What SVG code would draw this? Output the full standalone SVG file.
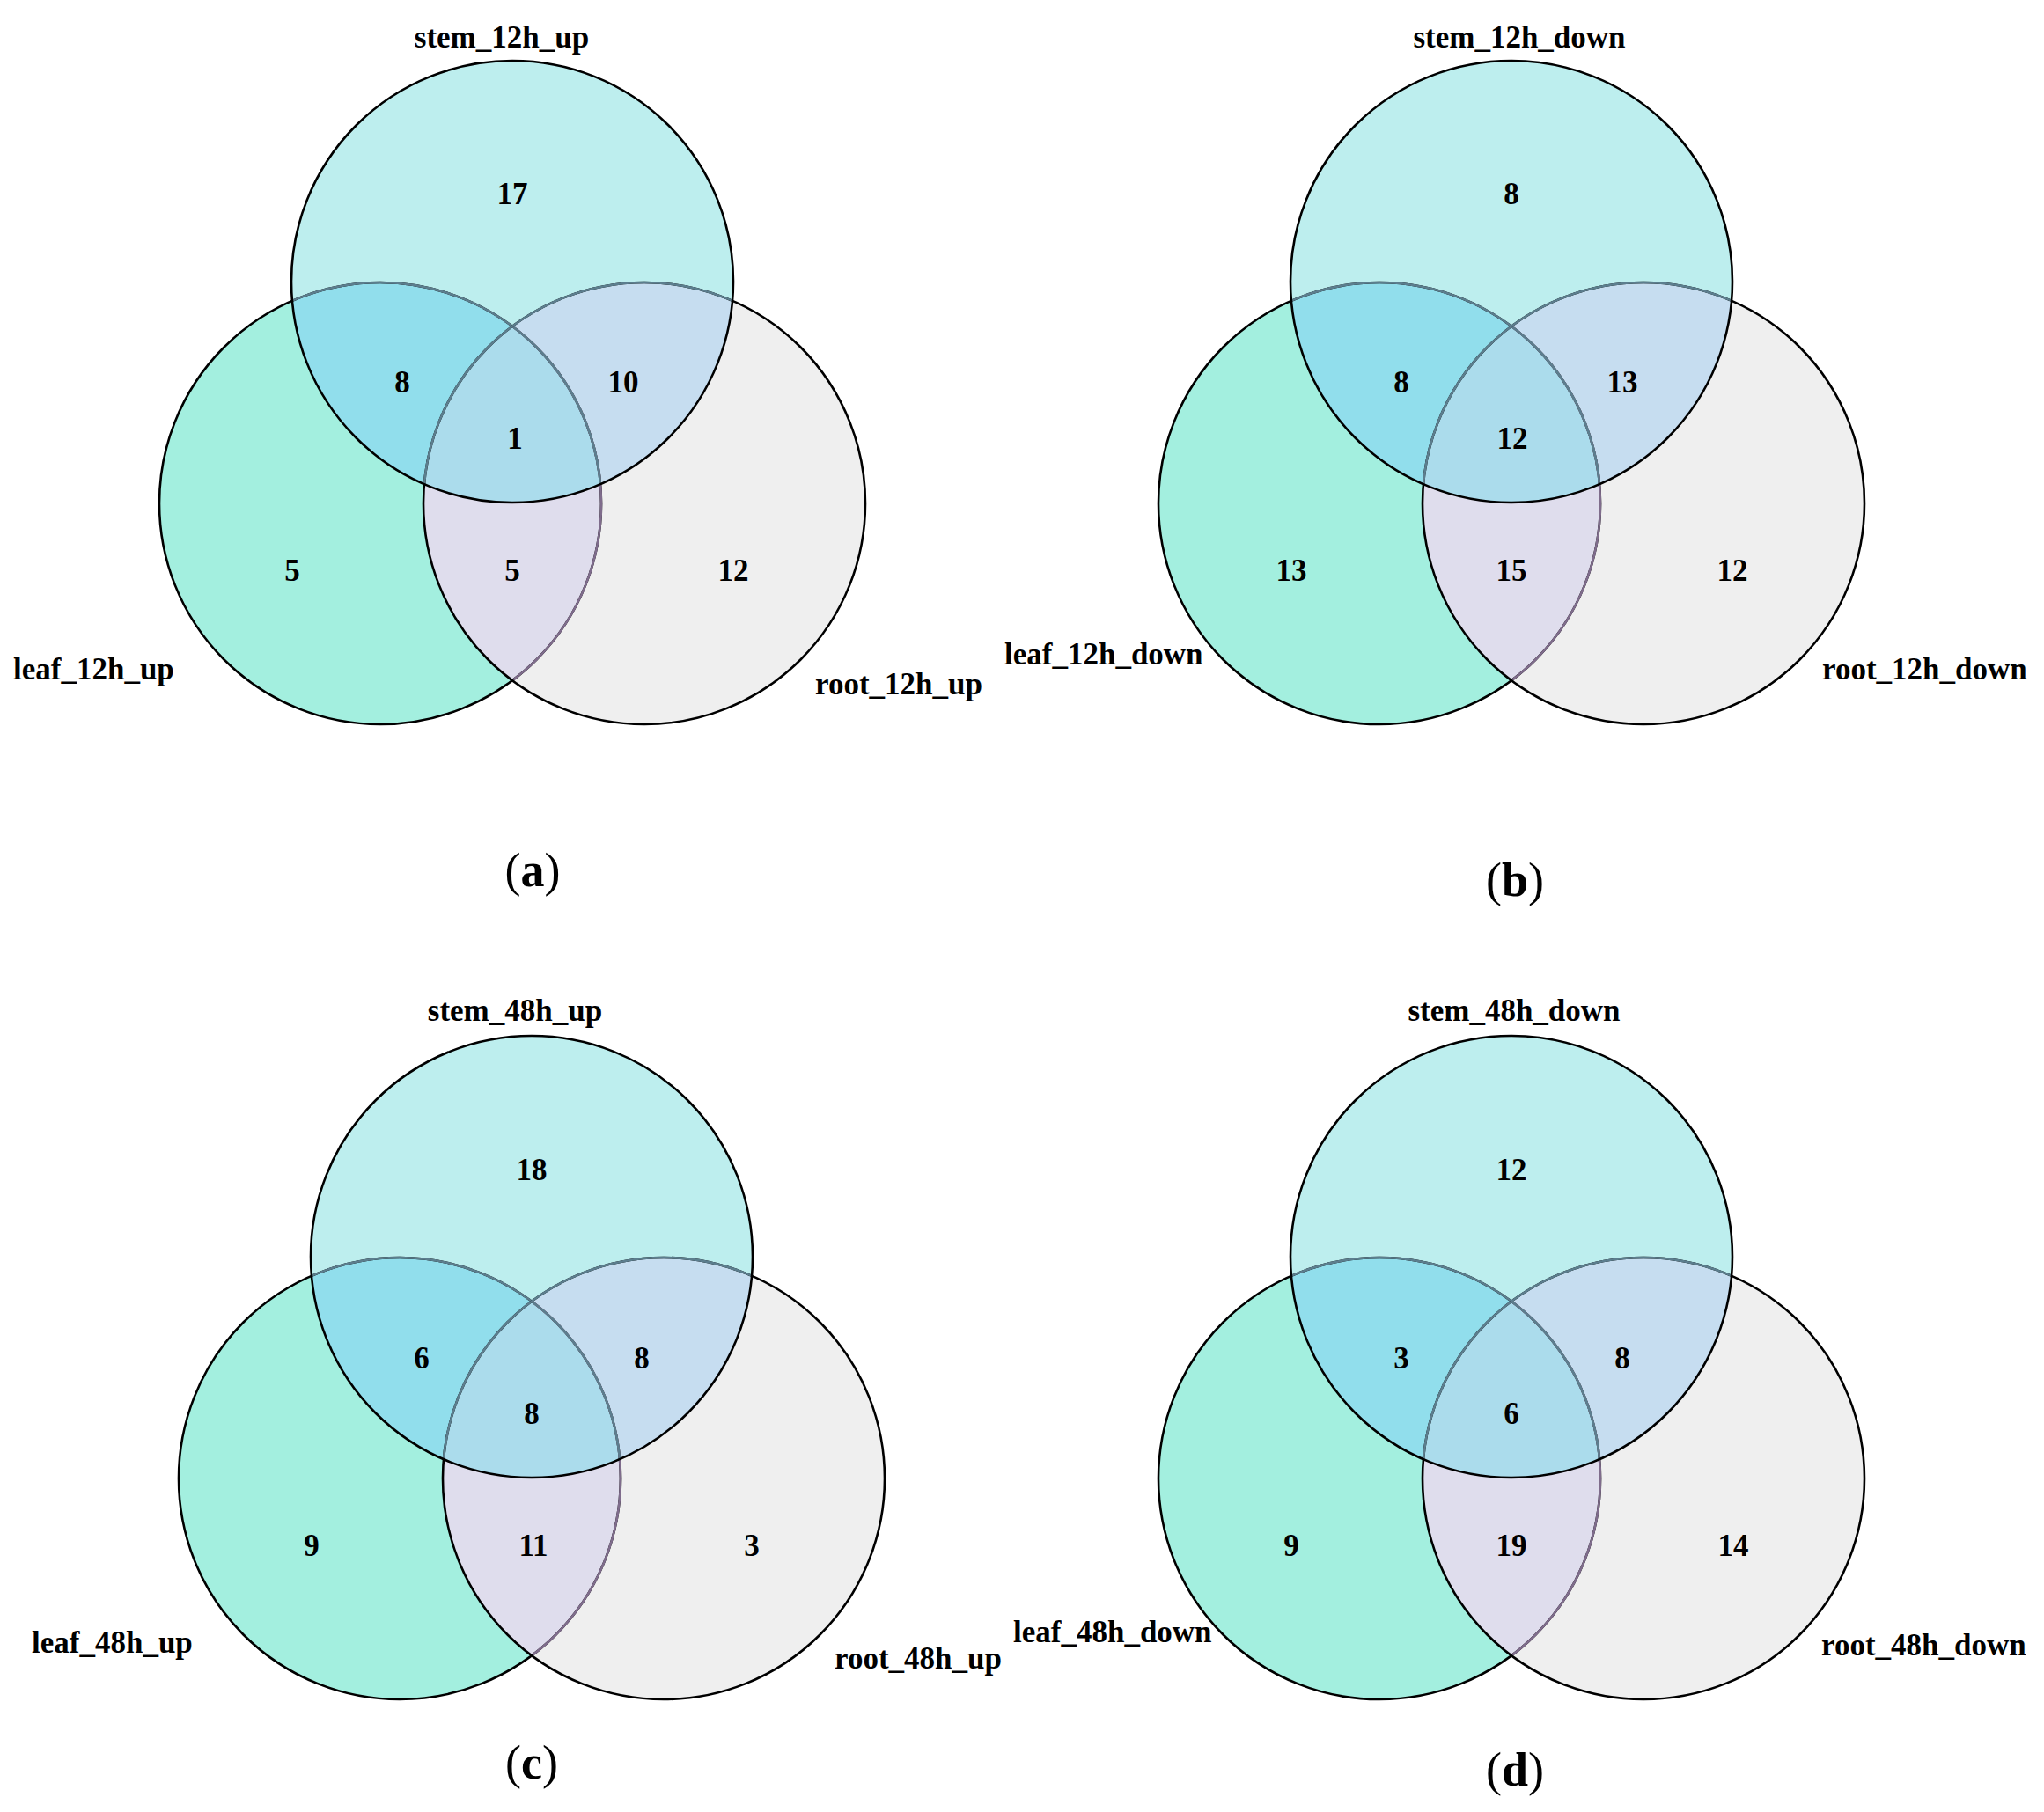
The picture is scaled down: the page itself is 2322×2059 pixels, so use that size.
<svg xmlns="http://www.w3.org/2000/svg" xmlns:xlink="http://www.w3.org/1999/xlink" width="2322" height="2059" viewBox="0 0 2322 2059">
<style>
  .t { font-family: "Liberation Serif", "Times New Roman", serif; font-weight: bold; fill: #000; }
  .lab { font-size: 35px; }
  .num { font-size: 35px; text-anchor: middle; }
  .mid { text-anchor: middle; }
  .cap { font-size: 54px; text-anchor: middle; }
  .paren { font-weight: normal; }
  .f-leaf { fill: #A3EFDF; }
  .f-root { fill: #EFEFEF; }
  .f-stem { fill: #BDEEEE; }
  .f-lr { fill: #DFDDED; }
  .f-ls { fill: #91DEEC; }
  .f-sr { fill: #C6DDF0; }
  .f-all { fill: #ABDCEC; }
  .s { fill: none; stroke: #000; stroke-width: 2.6; }
  .s-rf { stroke: #7F6C8C; }
  .s-sf { stroke: #5C7E8E; }
</style>
<defs>
  <clipPath id="c-leaf" clipPathUnits="userSpaceOnUse"><circle cx="-150" cy="252" r="251"/></clipPath>
  <clipPath id="c-root" clipPathUnits="userSpaceOnUse"><circle cx="150" cy="252" r="251"/></clipPath>
  <clipPath id="c-stem" clipPathUnits="userSpaceOnUse"><circle cx="0" cy="0" r="251"/></clipPath>
  <g id="venn">
    <circle class="f-leaf" cx="-150" cy="252" r="251"/>
    <circle class="f-root" cx="150" cy="252" r="251"/>
    <circle class="f-stem" cx="0" cy="0" r="251"/>
    <circle class="f-lr" cx="150" cy="252" r="251" clip-path="url(#c-leaf)"/>
    <circle class="f-ls" cx="0" cy="0" r="251" clip-path="url(#c-leaf)"/>
    <circle class="f-sr" cx="0" cy="0" r="251" clip-path="url(#c-root)"/>
    <g clip-path="url(#c-root)"><circle class="f-all" cx="0" cy="0" r="251" clip-path="url(#c-leaf)"/></g>
    <circle class="s" cx="-150" cy="252" r="251"/>
    <circle class="s s-rf" cx="-150" cy="252" r="251" clip-path="url(#c-root)"/>
    <circle class="s s-sf" cx="-150" cy="252" r="251" clip-path="url(#c-stem)"/>
    <circle class="s" cx="150" cy="252" r="251"/>
    <circle class="s s-sf" cx="150" cy="252" r="251" clip-path="url(#c-stem)"/>
    <circle class="s" cx="0" cy="0" r="251"/>
  </g>
</defs>
<rect x="0" y="0" width="2322" height="2059" fill="#FFFFFF"/>

<g id="panel-a">
  <g id="a-sets" transform="translate(582,320)">
    <use xlink:href="#venn" href="#venn"/>
    <g class="t num">
      <text x="0" y="-88">17</text>
      <text x="-125" y="126">8</text>
      <text x="126" y="126">10</text>
      <text x="3" y="190">1</text>
      <text x="-250" y="340">5</text>
      <text x="0" y="340">5</text>
      <text x="251" y="340">12</text>
    </g>
  </g>
  <text id="a-stem" class="t lab mid" x="570" y="54">stem_12h_up</text>
  <text id="a-leaf" class="t lab" x="15" y="772">leaf_12h_up</text>
  <text id="a-root" class="t lab" x="926" y="789">root_12h_up</text>
  <text class="t cap" x="605" y="1007"><tspan class="paren">(</tspan>a<tspan class="paren">)</tspan></text>
</g>

<g id="panel-b">
  <g id="b-sets" transform="translate(1717,320)">
    <use xlink:href="#venn" href="#venn"/>
    <g class="t num">
      <text x="0" y="-88">8</text>
      <text x="-125" y="126">8</text>
      <text x="126" y="126">13</text>
      <text x="1" y="190">12</text>
      <text x="-250" y="340">13</text>
      <text x="0" y="340">15</text>
      <text x="251" y="340">12</text>
    </g>
  </g>
  <text id="b-stem" class="t lab mid" x="1726" y="54">stem_12h_down</text>
  <text id="b-leaf" class="t lab" x="1141" y="755">leaf_12h_down</text>
  <text id="b-root" class="t lab" x="2070" y="772">root_12h_down</text>
  <text class="t cap" x="1721" y="1018"><tspan class="paren">(</tspan>b<tspan class="paren">)</tspan></text>
</g>

<g id="panel-c">
  <g id="c-sets" transform="translate(604,1428)">
    <use xlink:href="#venn" href="#venn"/>
    <g class="t num">
      <text x="0" y="-87">18</text>
      <text x="-125" y="127">6</text>
      <text x="125" y="127">8</text>
      <text x="0" y="190">8</text>
      <text x="-250" y="340">9</text>
      <text x="2" y="340">11</text>
      <text x="250" y="340">3</text>
    </g>
  </g>
  <text id="c-stem" class="t lab mid" x="585" y="1160">stem_48h_up</text>
  <text id="c-leaf" class="t lab" x="36" y="1878">leaf_48h_up</text>
  <text id="c-root" class="t lab" x="948" y="1896">root_48h_up</text>
  <text class="t cap" x="604" y="2021"><tspan class="paren">(</tspan>c<tspan class="paren">)</tspan></text>
</g>

<g id="panel-d">
  <g id="d-sets" transform="translate(1717,1428)">
    <use xlink:href="#venn" href="#venn"/>
    <g class="t num">
      <text x="0" y="-87">12</text>
      <text x="-125" y="127">3</text>
      <text x="126" y="127">8</text>
      <text x="0" y="190">6</text>
      <text x="-250" y="340">9</text>
      <text x="0" y="340">19</text>
      <text x="252" y="340">14</text>
    </g>
  </g>
  <text id="d-stem" class="t lab mid" x="1720" y="1160">stem_48h_down</text>
  <text id="d-leaf" class="t lab" x="1151" y="1866">leaf_48h_down</text>
  <text id="d-root" class="t lab" x="2069" y="1881">root_48h_down</text>
  <text class="t cap" x="1721" y="2029"><tspan class="paren">(</tspan>d<tspan class="paren">)</tspan></text>
</g>
</svg>
